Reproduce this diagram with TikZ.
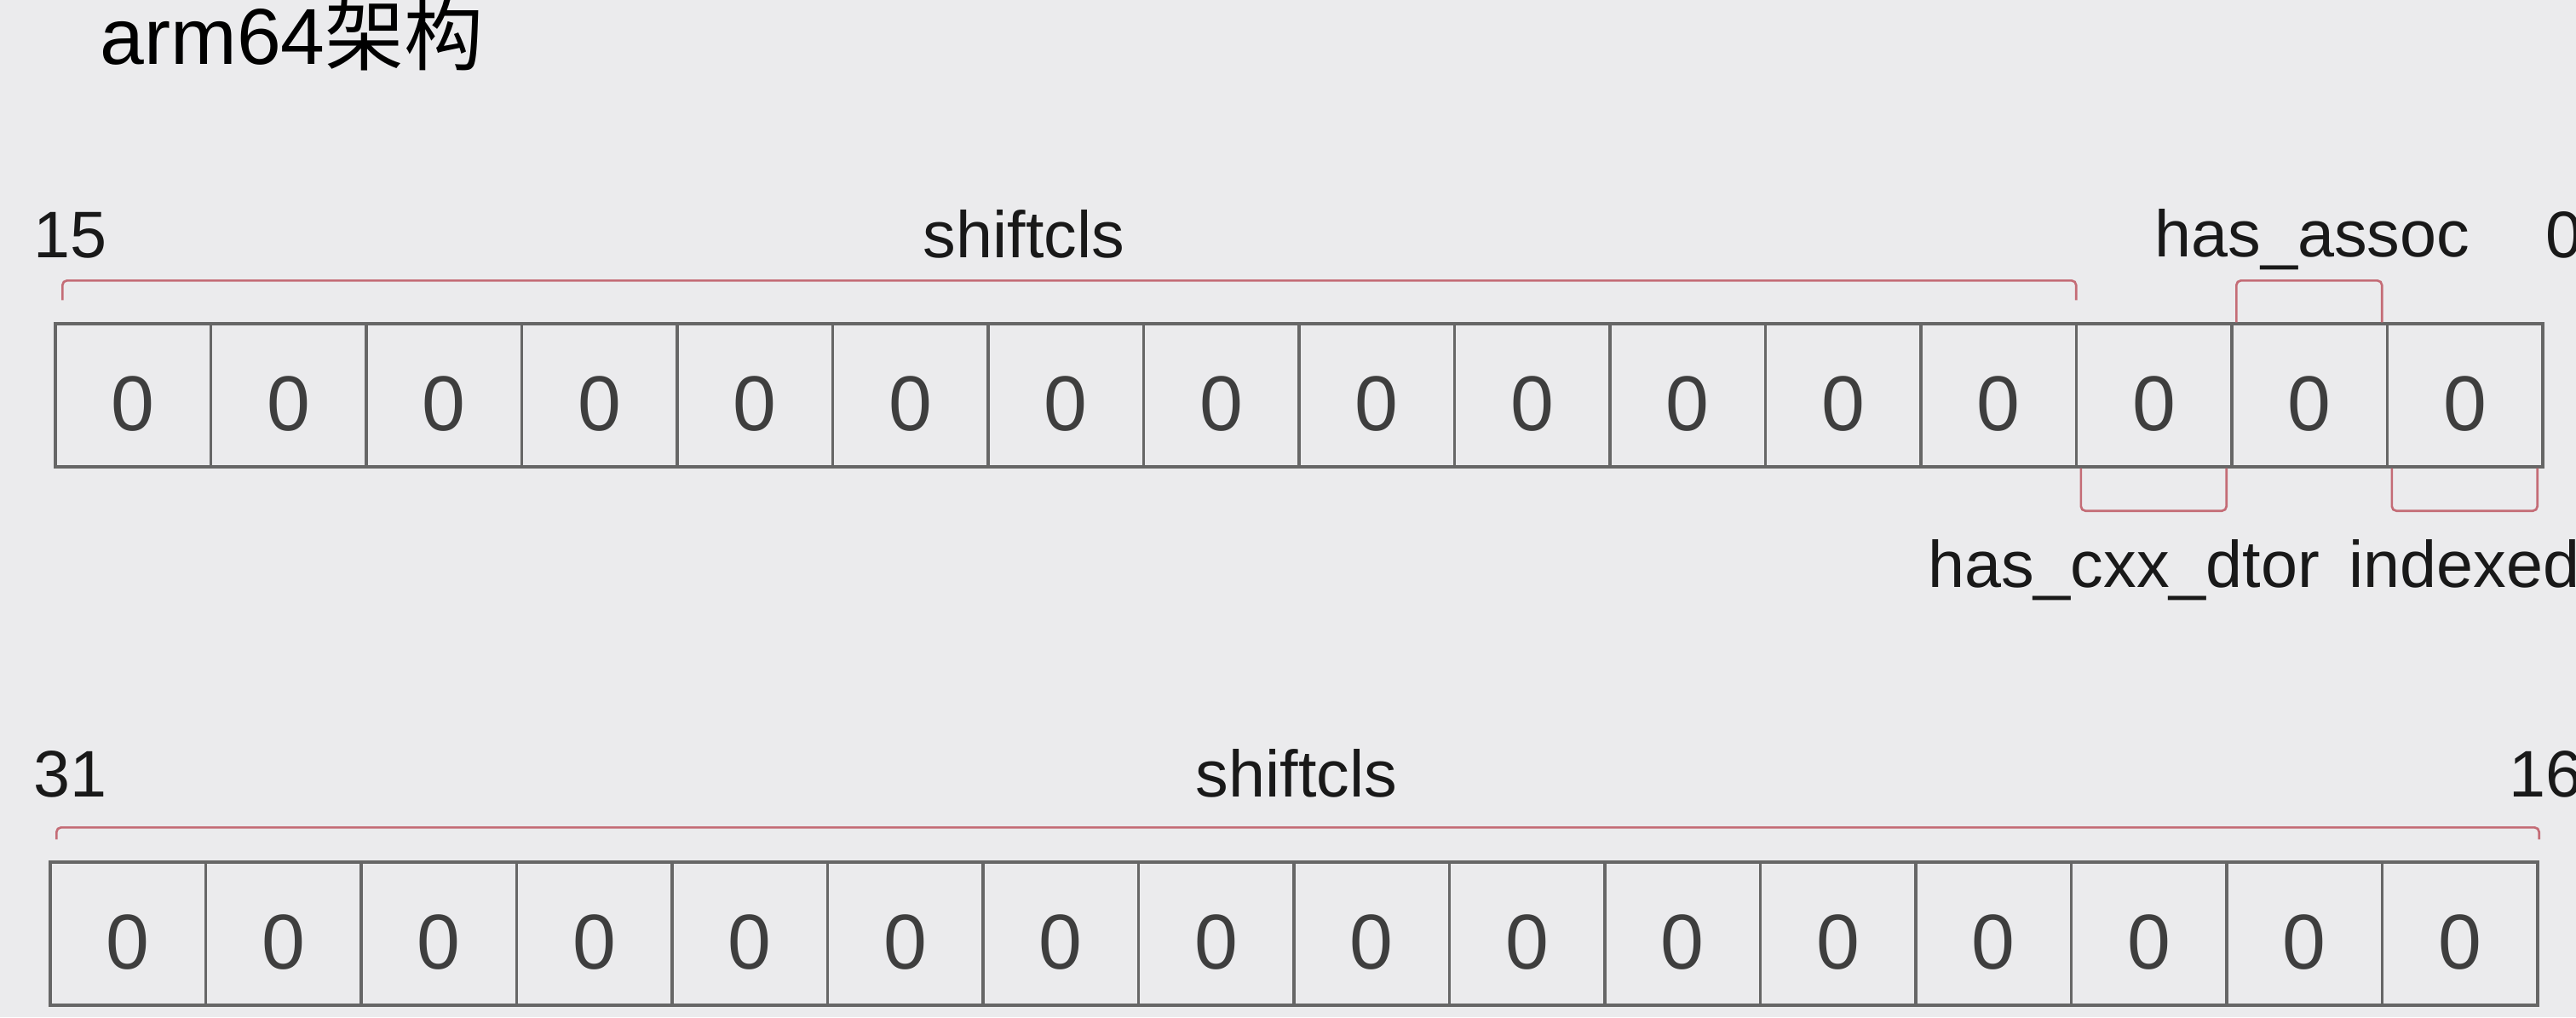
\documentclass[tikz,border=0pt]{standalone}
\usepackage{fontspec}
\setmainfont{Liberation Sans}
\newfontfamily\cjk{Noto Sans CJK SC}
\usetikzlibrary{positioning}
\definecolor{bg}{HTML}{EBEBED}
\definecolor{boxline}{HTML}{666666}
\definecolor{brkred}{HTML}{C46C76}
\definecolor{digit}{HTML}{3E3E3E}

\begin{document}
\begin{tikzpicture}[
    bit/.style={draw=boxline, line width=0.95pt, minimum width=1.825cm, minimum height=1.68cm,
        inner sep=0pt, text height=0.82cm, text depth=0pt, text=digit,
        font=\fontsize{26}{30}\selectfont},
    lbl/.style={inner sep=0pt, anchor=base, text=black!90, font=\fontsize{22}{26}\selectfont},
    brk/.style={draw=brkred, line width=0.75pt, rounded corners=1.5pt}]

    \fill[bg] (0,0) rectangle (30.24,-11.94);
    \useasboundingbox (0,0) rectangle (30.24,-11.94);

    % Title
    \node [inner sep=0pt, anchor=base west, font=\fontsize{26.5}{32}\selectfont] (title) at (1.17,-0.75) {arm64{\cjk 架构}};

    % Bits 15..0
    \node [bit] (b15) at (1.5625,-4.64) {0};
    \foreach \i [evaluate=\i as \j using int(\i+1)] in {14,...,0}
        \node [bit, right of=b\j, node distance=1.825cm] (b\i) {0};

    % Bits 31..16
    \node [bit] (c31) at (1.5025,-10.96) {0};
    \foreach \i [evaluate=\i as \j using int(\i+1)] in {30,...,16}
        \node [bit, right of=c\j, node distance=1.825cm] (c\i) {0};

    % Brackets
    \draw [brk] ([xshift=0.1cm, yshift=0.26cm]b15.north west) -- ++(0,0.23) -| ([xshift=-0.02cm, yshift=0.26cm]b3.north east);
    \draw [brk] ([xshift=0.07cm]b1.north west) -- ++(0,0.49) -| ([xshift=-0.08cm]b1.north east);
    \draw [brk] ([xshift=0.07cm]b2.south west) -- ++(0,-0.5) -| ([xshift=-0.08cm]b2.south east);
    \draw [brk] ([xshift=0.07cm]b0.south west) -- ++(0,-0.5) -| ([xshift=-0.08cm]b0.south east);
    \draw [brk] ([xshift=0.09cm, yshift=0.25cm]c31.north west) -- ++(0,0.14) -| ([yshift=0.25cm]c16.north east);

    % Labels
    \node [lbl, anchor=base west] (hi1) at (0.39,-3.02) {15};
    \node [lbl] (shift1) at (12.02,-3.02) {shiftcls};
    \node [lbl] (assoc) at ([xshift=0.03cm, yshift=0.77cm]b1.north) {has\_assoc};
    \node [lbl, anchor=base west] (lo1) at (29.88,-3.02) {0};
    \node [lbl] (dtor) at (24.93,-6.89) {has\_cxx\_dtor};
    \node [lbl, anchor=base west] (idx) at (27.57,-6.89) {indexed};
    \node [lbl, anchor=base west] (hi2) at (0.39,-9.35) {31};
    \node [lbl] (shift2) at (15.22,-9.35) {shiftcls};
    \node [lbl, anchor=base west] (lo2) at (29.45,-9.35) {16};

\end{tikzpicture}
\end{document}
